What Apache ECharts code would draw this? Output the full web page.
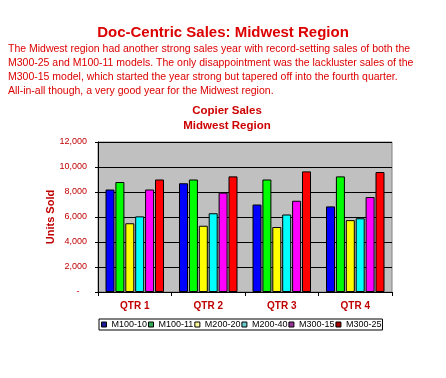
<!DOCTYPE html>
<html>
<head>
<meta charset="utf-8">
<script src="https://cdn.jsdelivr.net/npm/echarts@6/dist/echarts.min.js"></script>
<style>
html, body { margin: 0; padding: 0; background: #fff; }
#chart { width: 446px; height: 378px; }
</style>
</head>
<body>
<div id="chart"></div>
<script>
const categories = ['QTR 1', 'QTR 2', 'QTR 3', 'QTR 4'];
const seriesNames = ['M100-10', 'M100-11', 'M200-20', 'M200-40', 'M300-15', 'M300-25'];
const m100_10 = [8200, 8700, 7000, 6850];
const m100_11 = [8800, 9000, 9000, 9250];
const m200_20 = [5500, 5300, 5200, 5750];
const m200_40 = [6050, 6300, 6200, 5900];
const m300_15 = [8200, 7950, 7300, 7600];
const m300_25 = [9000, 9250, 9650, 9600];
const seriesValues = [m100_10, m100_11, m200_20, m200_40, m300_15, m300_25];
const colors = ['#0000ff', '#00ff00', '#ffff00', '#00ffff', '#ff00ff', '#ff0000'];
const legendColors = ['#1a1a90', '#33aa55', '#ffff99', '#66cccc', '#993399', '#aa0000'];

const paragraph = [
    'The Midwest region had another strong sales year with record-setting sales of both the',
    'M300-25 and M100-11 models. The only disappointment was the lackluster sales of the',
    'M300-15 model, which started the year strong but tapered off into the fourth quarter.',
    'All-in-all though, a very good year for the Midwest region.'
];

const fontFamily = '"Liberation Sans", Arial, sans-serif';

const myChart = echarts.init(document.getElementById('chart'), null, { renderer: 'canvas' });

const seriesData = seriesNames.map((name, i) => ({
    name: name,
    type: 'bar',
    barWidth: 9,
    barGap: '10%',
    itemStyle: { color: colors[i], borderColor: '#000', borderWidth: 1 },
    data: seriesValues[i]
}));

const option = {
    animation: false,
    backgroundColor: '#fff',
    textStyle: { fontFamily: fontFamily },
    title: [
        {
            text: 'Doc-Centric Sales: Midwest Region',
            left: 'center',
            top: 20,
            textStyle: { color: '#dd0000', fontSize: 15, fontWeight: 'bold', fontFamily: fontFamily }
        },
        {
            text: paragraph.join('\n'),
            left: 3,
            top: 37,
            textStyle: { color: '#dd0000', fontSize: 10.5, fontWeight: 'normal', lineHeight: 14, fontFamily: fontFamily }
        },
        {
            text: 'Copier Sales\nMidwest Region',
            left: 222,
            textAlign: 'center',
            top: 99,
            textStyle: { color: '#cc0000', fontSize: 11.5, fontWeight: 'bold', lineHeight: 14.5, fontFamily: fontFamily }
        }
    ],
    legend: {
        left: 99,
        top: 319,
        itemWidth: 5,
        itemHeight: 5,
        itemGap: 1,
        padding: [1, 1, 1, 2],
        borderColor: '#000',
        borderWidth: 1,
        icon: 'rect',
        textStyle: { color: '#000', fontSize: 9, fontFamily: fontFamily },
        data: seriesNames.map((name, i) => ({
            name: name,
            itemStyle: { color: legendColors[i], borderColor: '#000', borderWidth: 1 }
        }))
    },
    grid: {
        left: 98,
        right: 54,
        top: 142,
        bottom: 86,
        show: true,
        backgroundColor: '#c0c0c0',
        borderColor: '#808080',
        borderWidth: 1
    },
    xAxis: {
        type: 'category',
        data: categories,
        axisLine: { show: true, lineStyle: { color: '#000' } },
        axisTick: { show: true, length: 4, lineStyle: { color: '#000' } },
        axisLabel: { color: '#c00000', fontSize: 10, fontWeight: 'bold', margin: 9, fontFamily: fontFamily }
    },
    yAxis: {
        type: 'value',
        min: 0,
        max: 12000,
        interval: 2000,
        name: 'Units Sold',
        nameLocation: 'middle',
        nameGap: 42,
        nameMoveOverlap: false,
        nameTextStyle: { color: '#c00000', fontSize: 11, fontWeight: 'bold', fontFamily: fontFamily },
        axisLine: { show: true, lineStyle: { color: '#000' } },
        axisTick: { show: true, length: 3, lineStyle: { color: '#000' } },
        axisLabel: {
            color: '#c00000',
            fontSize: 9,
            margin: 11,
            fontFamily: fontFamily,
            formatter: v => v === 0 ? '-   ' : v.toLocaleString('en-US')
        },
        splitLine: { show: true, lineStyle: { color: '#000', width: 1 } }
    },
    series: seriesData
};

myChart.setOption(option);
</script>
</body>
</html>
